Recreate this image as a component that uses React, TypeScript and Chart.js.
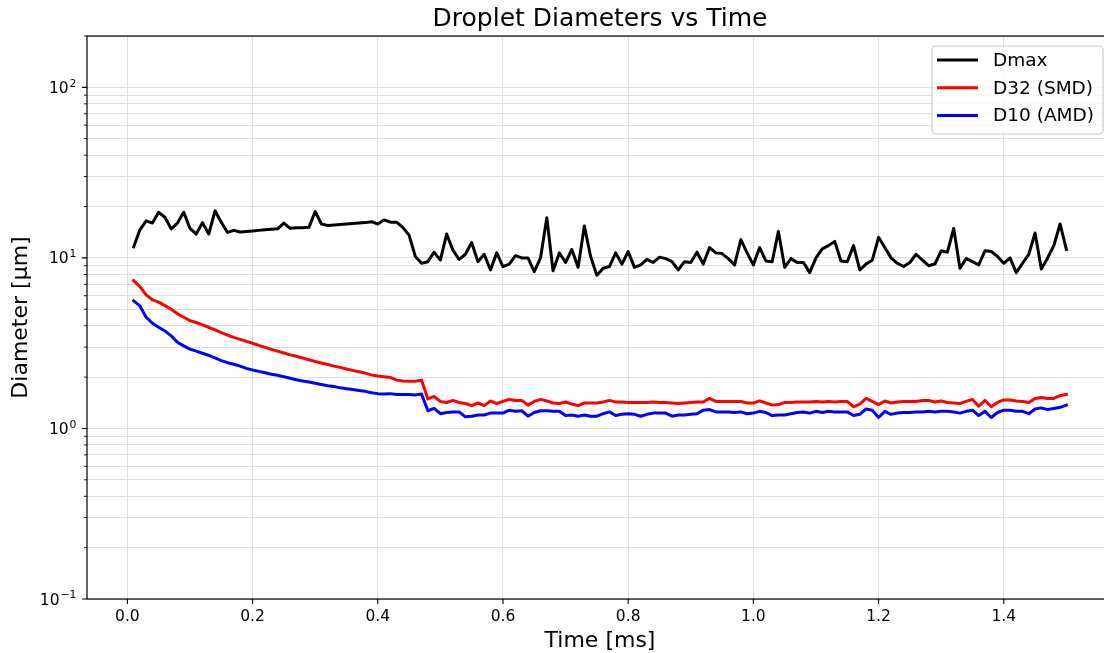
import React, { useEffect, useRef } from "react";
import { Chart, registerables } from "chart.js";

Chart.register(...registerables);

// ---- data ----
const TIMES = [
  0.01, 0.02, 0.03, 0.04, 0.05, 0.06, 0.07, 0.08, 0.09, 0.10,
  0.11, 0.12, 0.13, 0.14, 0.15, 0.16, 0.17, 0.18, 0.19, 0.20,
  0.21, 0.22, 0.23, 0.24, 0.25, 0.26, 0.27, 0.28, 0.29, 0.30,
  0.31, 0.32, 0.33, 0.34, 0.35, 0.36, 0.37, 0.38, 0.39, 0.40,
  0.41, 0.42, 0.43, 0.44, 0.45, 0.46, 0.47, 0.48, 0.49, 0.50,
  0.51, 0.52, 0.53, 0.54, 0.55, 0.56, 0.57, 0.58, 0.59, 0.60,
  0.61, 0.62, 0.63, 0.64, 0.65, 0.66, 0.67, 0.68, 0.69, 0.70,
  0.71, 0.72, 0.73, 0.74, 0.75, 0.76, 0.77, 0.78, 0.79, 0.80,
  0.81, 0.82, 0.83, 0.84, 0.85, 0.86, 0.87, 0.88, 0.89, 0.90,
  0.91, 0.92, 0.93, 0.94, 0.95, 0.96, 0.97, 0.98, 0.99, 1.00,
  1.01, 1.02, 1.03, 1.04, 1.05, 1.06, 1.07, 1.08, 1.09, 1.10,
  1.11, 1.12, 1.13, 1.14, 1.15, 1.16, 1.17, 1.18, 1.19, 1.20,
  1.21, 1.22, 1.23, 1.24, 1.25, 1.26, 1.27, 1.28, 1.29, 1.30,
  1.31, 1.32, 1.33, 1.34, 1.35, 1.36, 1.37, 1.38, 1.39, 1.40,
  1.41, 1.42, 1.43, 1.44, 1.45, 1.46, 1.47, 1.48, 1.49, 1.50,
];

const D_MAX = [
  11.6, 14.6, 16.5, 16.0, 18.5, 17.3, 14.8, 16.0, 18.5, 14.9,
  13.8, 16.1, 13.8, 18.9, 16.2, 14.1, 14.5, 14.2, 14.3, 14.4,
  14.5, 14.6, 14.7, 14.8, 16.0, 14.9, 15.0, 15.0, 15.1, 18.7,
  15.8, 15.5, 15.6, 15.7, 15.8, 15.9, 16.0, 16.1, 16.3, 15.8,
  16.7, 16.2, 16.2, 15.1, 13.6, 10.2, 9.3, 9.5, 10.8, 9.7,
  13.8, 11.1, 9.8, 10.5, 12.3, 9.5, 10.5, 8.5, 10.7, 8.9,
  9.2, 10.3, 10.0, 10.0, 8.3, 10.0, 17.2, 8.4, 10.7, 9.4,
  11.2, 8.8, 15.4, 10.2, 7.9, 8.7, 8.9, 10.7, 9.2, 10.9,
  8.8, 9.1, 9.8, 9.4, 10.1, 9.9, 9.5, 8.5, 9.5, 9.4,
  10.8, 9.2, 11.5, 10.7, 10.6, 9.9, 9.1, 12.8, 10.7, 9.1,
  11.5, 9.6, 9.5, 14.3, 8.8, 9.9, 9.4, 9.4, 8.2, 10.0,
  11.3, 11.8, 12.5, 9.6, 9.5, 11.8, 8.5, 9.2, 9.7, 13.2,
  11.5, 10.0, 9.3, 8.9, 9.4, 10.5, 9.7, 9.0, 9.2, 11.0,
  10.8, 14.9, 8.7, 9.9, 9.5, 9.1, 11.0, 10.9, 10.2, 9.3,
  10.0, 8.2, 9.3, 10.5, 14.0, 8.6, 10.0, 11.8, 15.8, 11.2,
];

const D32_SMD = [
  7.36, 6.79, 6.07, 5.67, 5.50, 5.25, 5.00, 4.70, 4.49, 4.29,
  4.18, 4.05, 3.92, 3.78, 3.65, 3.53, 3.42, 3.33, 3.24, 3.16,
  3.07, 2.99, 2.91, 2.84, 2.77, 2.70, 2.65, 2.59, 2.53, 2.47,
  2.42, 2.37, 2.32, 2.28, 2.23, 2.19, 2.15, 2.11, 2.06, 2.03,
  2.01, 1.99, 1.92, 1.90, 1.89, 1.89, 1.92, 1.49, 1.54, 1.44,
  1.42, 1.46, 1.42, 1.40, 1.36, 1.41, 1.36, 1.45, 1.40, 1.44,
  1.48, 1.46, 1.46, 1.37, 1.44, 1.48, 1.45, 1.41, 1.40, 1.43,
  1.39, 1.36, 1.41, 1.41, 1.41, 1.43, 1.46, 1.43, 1.43, 1.42,
  1.42, 1.42, 1.42, 1.43, 1.42, 1.42, 1.41, 1.40, 1.41, 1.42,
  1.43, 1.43, 1.50, 1.44, 1.44, 1.44, 1.44, 1.44, 1.41, 1.41,
  1.45, 1.41, 1.37, 1.38, 1.42, 1.42, 1.43, 1.43, 1.43, 1.44,
  1.43, 1.44, 1.43, 1.44, 1.44, 1.34, 1.39, 1.50, 1.44, 1.38,
  1.45, 1.41, 1.43, 1.44, 1.44, 1.44, 1.46, 1.46, 1.43, 1.45,
  1.42, 1.41, 1.40, 1.44, 1.48, 1.35, 1.46, 1.34, 1.42, 1.47,
  1.47, 1.45, 1.44, 1.42, 1.50, 1.52, 1.50, 1.50, 1.56, 1.58,
];

const D10_AMD = [
  5.60, 5.23, 4.49, 4.14, 3.92, 3.73, 3.49, 3.20, 3.05, 2.92,
  2.84, 2.76, 2.68, 2.59, 2.50, 2.43, 2.38, 2.32, 2.25, 2.20,
  2.16, 2.12, 2.08, 2.05, 2.01, 1.97, 1.93, 1.90, 1.87, 1.84,
  1.81, 1.78, 1.76, 1.73, 1.71, 1.69, 1.67, 1.65, 1.62, 1.60,
  1.59, 1.60, 1.58, 1.58, 1.58, 1.57, 1.59, 1.27, 1.31, 1.22,
  1.24, 1.25, 1.25, 1.17, 1.18, 1.20, 1.20, 1.23, 1.23, 1.23,
  1.28, 1.26, 1.27, 1.18, 1.24, 1.27, 1.27, 1.26, 1.26, 1.19,
  1.20, 1.18, 1.20, 1.18, 1.18, 1.22, 1.25, 1.19, 1.21, 1.22,
  1.21, 1.18, 1.21, 1.23, 1.23, 1.23, 1.18, 1.20, 1.20, 1.21,
  1.22, 1.28, 1.29, 1.25, 1.25, 1.25, 1.24, 1.25, 1.22, 1.23,
  1.26, 1.24, 1.19, 1.20, 1.20, 1.22, 1.24, 1.25, 1.23, 1.26,
  1.24, 1.26, 1.25, 1.25, 1.25, 1.19, 1.21, 1.30, 1.28, 1.16,
  1.26, 1.21, 1.23, 1.24, 1.24, 1.25, 1.25, 1.26, 1.25, 1.26,
  1.26, 1.25, 1.23, 1.26, 1.28, 1.19, 1.26, 1.16, 1.24, 1.28,
  1.28, 1.26, 1.26, 1.22, 1.30, 1.32, 1.29, 1.31, 1.33, 1.37,
];

const SERIES_LABELS = ["Dmax", "D32 (SMD)", "D10 (AMD)"];
const SERIES_COLORS = ["#000000", "#ff0000", "#0000ff"];

const X_TICKS = [0, 0.2, 0.4, 0.6, 0.8, 1.0, 1.2, 1.4];
const X_TICK_LABELS = ["0.0", "0.2", "0.4", "0.6", "0.8", "1.0", "1.2", "1.4"];
const Y_MAJOR = [0.1, 1, 10, 100];
const Y_MAJOR_BASE = "10";
const Y_MAJOR_EXPONENTS = ["\u22121", "0", "1", "2"];
const Y_MINOR = [
  0.2, 0.3, 0.4, 0.5, 0.6, 0.7, 0.8, 0.9,
  2, 3, 4, 5, 6, 7, 8, 9,
  20, 30, 40, 50, 60, 70, 80, 90,
  200,
];

const TITLE = "Droplet Diameters vs Time";
const X_TITLE = "Time [ms]";
const Y_TITLE = "Diameter [\u00B5m]";

const FONT = "'DejaVu Sans', sans-serif";

const decorPlugin = {
  id: "decor",
  afterDraw(chart: any) {
    const { ctx, chartArea: a, scales } = chart;
    ctx.save();
    // spines
    ctx.strokeStyle = "#000";
    ctx.lineWidth = 1.2;
    ctx.strokeRect(a.left, a.top, a.right - a.left, a.bottom - a.top);
    // ticks
    ctx.lineWidth = 1.1;
    ctx.beginPath();
    for (const v of X_TICKS) {
      const px = scales.x.getPixelForValue(v);
      ctx.moveTo(px, a.bottom);
      ctx.lineTo(px, a.bottom + 5);
    }
    for (const v of Y_MAJOR) {
      const py = scales.y.getPixelForValue(v);
      ctx.moveTo(a.left, py);
      ctx.lineTo(a.left - 5, py);
    }
    ctx.stroke();
    ctx.lineWidth = 0.9;
    ctx.beginPath();
    for (const v of Y_MINOR) {
      const py = scales.y.getPixelForValue(v);
      ctx.moveTo(a.left, py);
      ctx.lineTo(a.left - 3, py);
    }
    ctx.stroke();

    // y tick labels: 10 with superscript exponent
    ctx.fillStyle = "#000";
    ctx.textAlign = "left";
    ctx.textBaseline = "alphabetic";
    const rightEdge = a.left - 11;
    Y_MAJOR.forEach((v, i) => {
      const py = scales.y.getPixelForValue(v);
      const exp = Y_MAJOR_EXPONENTS[i];
      ctx.font = `10.8px ${FONT}`;
      const ew = ctx.measureText(exp).width;
      ctx.font = `15.5px ${FONT}`;
      const bw = ctx.measureText(Y_MAJOR_BASE).width;
      const x0 = rightEdge - ew - bw - 0.5;
      ctx.fillText(Y_MAJOR_BASE, x0, py + 5.6);
      ctx.font = `10.8px ${FONT}`;
      ctx.fillText(exp, x0 + bw + 0.8, py - 0.6);
    });

    // legend
    const bx = 932, by = 46, bw = 171, bh = 88;
    ctx.beginPath();
    ctx.roundRect(bx, by, bw, bh, 4);
    ctx.fillStyle = "rgba(255,255,255,0.85)";
    ctx.fill();
    ctx.strokeStyle = "#cccccc";
    ctx.lineWidth = 1.2;
    ctx.stroke();
    ctx.font = `18.5px ${FONT}`;
    ctx.textBaseline = "middle";
    ctx.textAlign = "left";
    chart.data.datasets.forEach((ds: any, i: number) => {
      const y = 60 + i * 27.7;
      ctx.beginPath();
      ctx.strokeStyle = ds.borderColor;
      ctx.lineWidth = 3;
      ctx.moveTo(937, y);
      ctx.lineTo(978, y);
      ctx.stroke();
      ctx.fillStyle = "#000";
      ctx.fillText(ds.label, 993, y + 1);
    });
    ctx.restore();
  },
};

export default function App() {
  const ref = useRef<HTMLCanvasElement | null>(null);

  useEffect(() => {
    if (!ref.current) return;
    const series = [D_MAX, D32_SMD, D10_AMD];
    const chart = new Chart(ref.current, {
      type: "line",
      data: {
        datasets: series.map((vals, k) => ({
          label: SERIES_LABELS[k],
          data: TIMES.map((t, i) => ({ x: t, y: vals[i] })),
          borderColor: SERIES_COLORS[k],
          backgroundColor: SERIES_COLORS[k],
          borderWidth: 3,
          pointRadius: 0,
          tension: 0,
          borderJoinStyle: "round",
          borderCapStyle: "square",
          fill: false,
        })),
      },
      options: {
        animation: false,
        responsive: false,
        devicePixelRatio: 1,
        layout: { padding: { left: 0, right: 3, top: 0, bottom: 0 } },
        plugins: {
          legend: { display: false },
          tooltip: { enabled: false },
          title: {
            display: true,
            text: TITLE,
            fullSize: false,
            color: "#000",
            font: { family: FONT, size: 25, weight: "normal", lineHeight: 1.2 },
            padding: { top: 4, bottom: 2 },
          },
        },
        scales: {
          x: {
            type: "linear",
            min: -0.0645,
            max: 1.5745,
            afterBuildTicks: (scale: any) => {
              scale.ticks = X_TICKS.map((v) => ({ value: v }));
            },
            afterFit: (scale: any) => {
              scale.height = 54;
            },
            ticks: {
              autoSkip: false,
              maxRotation: 0,
              padding: 8.5,
              color: "#000",
              font: { family: FONT, size: 15.5 },
              callback: (v: any) => {
                const idx = X_TICKS.findIndex((t) => Math.abs(t - Number(v)) < 1e-9);
                return idx >= 0 ? X_TICK_LABELS[idx] : "";
              },
            },
            grid: { color: "#dedede", lineWidth: 1, drawTicks: false },
            border: { display: false },
            title: {
              display: true,
              text: X_TITLE,
              color: "#000",
              font: { family: FONT, size: 22, lineHeight: 1.2 },
              padding: { top: 0, bottom: -1 },
            },
          },
          y: {
            type: "logarithmic",
            min: 0.1,
            max: 200,
            afterBuildTicks: (scale: any) => {
              const all = [...Y_MAJOR, ...Y_MINOR].sort((p, q) => p - q);
              scale.ticks = all.map((v) => ({ value: v }));
            },
            afterFit: (scale: any) => {
              scale.width = 87;
            },
            ticks: {
              autoSkip: false,
              padding: 10,
              color: "#000",
              font: { family: FONT, size: 15.5 },
              callback: () => "",
            },
            grid: { color: "#dedede", lineWidth: 1, drawTicks: false },
            border: { display: false },
            title: {
              display: true,
              text: Y_TITLE,
              color: "#000",
              font: { family: FONT, size: 22, lineHeight: 1.2 },
              padding: { top: 8, bottom: 0 },
            },
          },
        },
      },
      plugins: [decorPlugin],
    } as any);
    return () => chart.destroy();
  }, []);

  return (
    <div
      style={{
        position: "absolute",
        left: 0,
        top: 0,
        width: 1104,
        height: 653,
        overflow: "hidden",
        background: "#ffffff",
      }}
    >
      <canvas ref={ref} width={1116} height={653} style={{ display: "block" }} />
    </div>
  );
}
